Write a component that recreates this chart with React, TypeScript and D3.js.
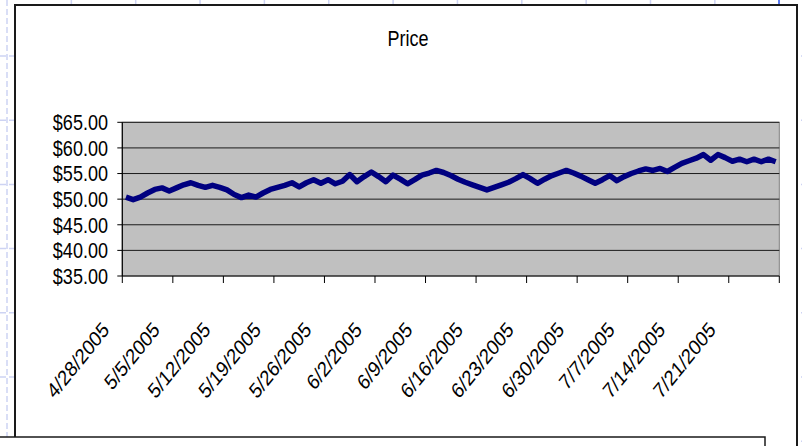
import React, { useEffect, useRef } from 'react';
import * as d3 from 'd3';

// chart values
const chartTitle = 'Price';
const firstDay = new Date(2005, 3, 28);
const prices = [
  50.4, 49.9, 50.4, 51.2, 51.9, 52.2, 51.6, 52.2, 52.8, 53.2,
  52.7, 52.3, 52.7, 52.3, 51.8, 50.9, 50.3, 50.8, 50.4, 51.2,
  51.9, 52.3, 52.7, 53.2, 52.4, 53.2, 53.8, 53.1, 53.8, 53.0,
  53.5, 54.8, 53.4, 54.4, 55.3, 54.4, 53.4, 54.7, 53.9, 53.0,
  53.8, 54.7, 55.1, 55.6, 55.2, 54.6, 53.9, 53.3, 52.8, 52.3,
  51.8, 52.3, 52.8, 53.3, 54.0, 54.8, 54.0, 53.1, 53.9, 54.6,
  55.1, 55.6, 55.1, 54.5, 53.8, 53.1, 53.8, 54.6, 53.6, 54.4,
  55.0, 55.5, 55.9, 55.6, 56.0, 55.4, 56.2, 57.0, 57.5, 58.0,
  58.7, 57.6, 58.7, 58.1, 57.4, 57.8, 57.3, 57.8, 57.3, 57.8, 57.3,
];
const dateLabels = [
  '4/28/2005', '5/5/2005', '5/12/2005', '5/19/2005', '5/26/2005', '6/2/2005', '6/9/2005',
  '6/16/2005', '6/23/2005', '6/30/2005', '7/7/2005', '7/14/2005', '7/21/2005',
];
const yTicks = [35, 40, 45, 50, 55, 60, 65];

const fmt = d3.timeFormat('%-m/%-d/%Y');
const categories = d3.timeDay
  .range(firstDay, d3.timeDay.offset(firstDay, prices.length))
  .map(d => fmt(d));

function App() {
  const ref = useRef<SVGSVGElement>(null);

  useEffect(() => {
    const width = 802;
    const height = 446;
    const left = 122.3, right = 779.3, top = 122.3, bottom = 276;
    const font = "'Liberation Sans', Arial, sans-serif";

    const svg = d3.select(ref.current);
    svg.selectAll('*').remove();
    svg.attr('width', width).attr('height', height);

    // slide background grid (dashed, light blue)
    const bg = svg.append('g').attr('stroke', '#cdd3f3').attr('stroke-width', 1.5).attr('stroke-dasharray', '6,3');
    d3.range(7, width, 64.35).forEach(x => {
      bg.append('line').attr('x1', x).attr('x2', x).attr('y1', 0).attr('y2', height);
    });
    d3.range(56, height, 64.2).forEach(y => {
      bg.append('line').attr('x1', 0).attr('x2', width).attr('y1', y).attr('y2', y);
    });
    svg.append('line').attr('x1', 779).attr('x2', 779).attr('y1', 0).attr('y2', 9)
      .attr('stroke', '#5b7bf0').attr('stroke-width', 2);

    // chart frame
    svg.append('rect')
      .attr('x', 15).attr('y', 5).attr('width', 782).attr('height', 500)
      .attr('fill', 'white').attr('stroke', '#1a1a1a').attr('stroke-width', 2);

    const xScale = d3.scaleBand<string>().domain(categories).range([left, right]).padding(0);
    const yScale = d3.scaleLinear().domain([35, 65]).range([bottom, top]);

    // plot area
    svg.append('rect')
      .attr('x', left).attr('y', top).attr('width', right - left).attr('height', bottom - top)
      .attr('fill', '#c0c0c0').attr('stroke', '#808080').attr('stroke-width', 1);

    // gridlines
    svg.append('g').selectAll('line')
      .data(yTicks.slice(1))
      .enter().append('line')
      .attr('x1', left).attr('x2', right)
      .attr('y1', d => yScale(d)).attr('y2', d => yScale(d))
      .attr('stroke', '#1a1a1a').attr('stroke-width', 1);

    // y axis
    const yAxis = svg.append('g');
    yAxis.append('line').attr('x1', left).attr('x2', left).attr('y1', top).attr('y2', bottom)
      .attr('stroke', 'black').attr('stroke-width', 1.2);
    yTicks.forEach(t => {
      const y = yScale(t);
      yAxis.append('line').attr('x1', left - 5).attr('x2', left).attr('y1', y).attr('y2', y)
        .attr('stroke', 'black');
      yAxis.append('text')
        .attr('transform', `translate(108, ${y + 7.8}) scale(0.82, 1)`)
        .attr('text-anchor', 'end')
        .style('font-family', font).style('font-size', '22px')
        .text(d3.format('$.2f')(t));
    });

    // x axis
    const xAxis = svg.append('g');
    xAxis.append('line').attr('x1', left).attr('x2', right).attr('y1', bottom).attr('y2', bottom)
      .attr('stroke', 'black').attr('stroke-width', 1.2);
    const tickXs = dateLabels.map(l => xScale(l) as number).concat([right]);
    tickXs.forEach(x => {
      xAxis.append('line').attr('x1', x).attr('x2', x).attr('y1', bottom).attr('y2', bottom + 7)
        .attr('stroke', 'black');
    });
    dateLabels.forEach(l => {
      const x = (xScale(l) as number) - 12;
      xAxis.append('text')
        .attr('transform', `translate(${x}, 331) scale(0.84, 1) rotate(-46)`)
        .attr('text-anchor', 'end')
        .style('font-family', font).style('font-size', '21.5px')
        .text(l);
    });

    // price line
    svg.append('clipPath').attr('id', 'plot-clip')
      .append('rect').attr('x', left).attr('y', top).attr('width', right - left).attr('height', bottom - top);
    const line = d3.line<number>()
      .x((_, i) => (xScale(categories[i]) as number) + xScale.bandwidth() / 2)
      .y(d => yScale(d));
    svg.append('path')
      .datum(prices)
      .attr('clip-path', 'url(#plot-clip)')
      .attr('d', line)
      .attr('fill', 'none')
      .attr('stroke', '#000080')
      .attr('stroke-width', 5.5)
      .attr('stroke-linejoin', 'round');

    // title
    svg.append('text')
      .attr('transform', 'translate(408, 46) scale(0.82, 1)')
      .attr('text-anchor', 'middle')
      .style('font-family', font).style('font-size', '22px')
      .text(chartTitle);

    // box of the next slide element overlapping at the bottom
    svg.append('rect')
      .attr('x', -2).attr('y', 437).attr('width', 767).attr('height', 30)
      .attr('fill', 'white').attr('stroke', '#1a1a1a').attr('stroke-width', 1.5);
  }, []);

  return (
    <svg ref={ref} style={{ position: 'absolute', left: 0, top: 0, display: 'block' }}></svg>
  );
}

export default App;
